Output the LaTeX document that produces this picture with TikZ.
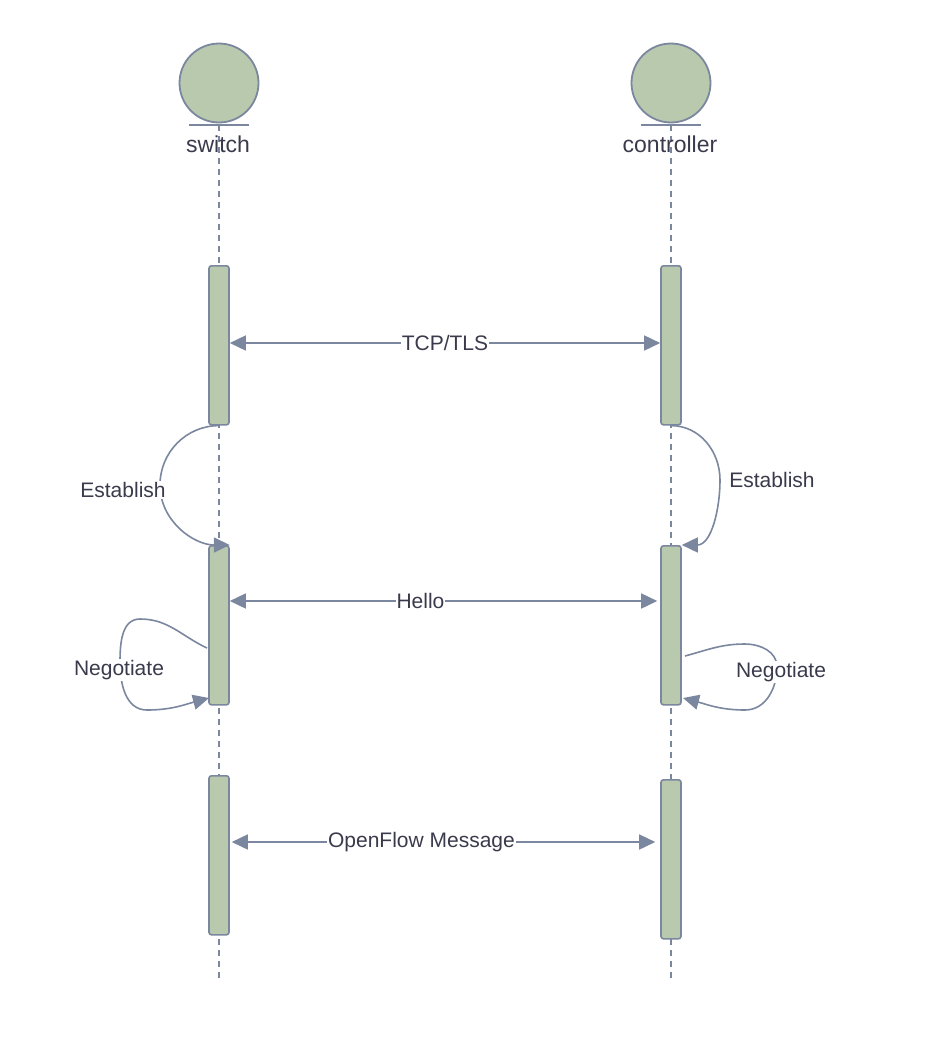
\documentclass[tikz,border=0pt]{standalone}
\usepackage{fontspec}
\setmainfont{Liberation Sans}
\usetikzlibrary{arrows.meta}
\definecolor{actfill}{HTML}{B8C9AE}
\definecolor{edge}{HTML}{7B879E}
\definecolor{txt}{HTML}{3A3A4C}
\begin{document}
\begin{tikzpicture}[x=1pt,y=-1pt,
  actor/.style={circle,draw=edge,fill=actfill,line width=1.8pt,minimum size=79pt,inner sep=0pt},
  aname/.style={text=txt,font=\fontsize{23}{26}\selectfont,inner sep=1pt},
  lifeline/.style={draw=edge,line width=1.5pt,dash pattern=on 6pt off 5pt},
  actbox/.style={draw=edge,fill=actfill,line width=1.6pt,rounded corners=2.5pt,minimum width=20pt,inner sep=0pt,anchor=north},
  msg/.style={draw=edge,line width=1.6pt,{Triangle[length=16pt,width=15pt]}-{Triangle[length=16pt,width=15pt]}},
  selfmsg/.style={draw=edge,line width=1.6pt,-{Triangle[length=16pt,width=15pt]}},
  lbl/.style={text=txt,font=\fontsize{21}{24}\selectfont,fill=white,inner sep=1pt}]
\useasboundingbox (0,0) rectangle (948,1052);
% actors
\node[actor] (sw) at (219,83) {};
\node[actor] (ct) at (671,83) {};
\coordinate (swb) at (219,125);
\coordinate (ctb) at (671,125);
\coordinate (swe) at (219,978);
\coordinate (cte) at (671,978);
\draw[lifeline] (swb) -- (swe);
\draw[lifeline] (ctb) -- (cte);
\draw[draw=edge,line width=1.8pt] ([xshift=-30pt]swb) -- ([xshift=30pt]swb);
\draw[draw=edge,line width=1.8pt] ([xshift=-30pt]ctb) -- ([xshift=30pt]ctb);
\node[aname] (swl) at (218,144) {switch};
\node[aname] (ctl) at (670,144) {controller};
% activation boxes
\node[actbox,minimum height=159pt] (s1) at (219,265) {};
\node[actbox,minimum height=159pt] (s2) at (219,545) {};
\node[actbox,minimum height=159pt] (s3) at (219,775) {};
\node[actbox,minimum height=159pt] (c1) at (671,265) {};
\node[actbox,minimum height=159pt] (c2) at (671,545) {};
\node[actbox,minimum height=159pt] (c3) at (671,779) {};
% messages
\draw[msg] (s1.east |- 0,343) -- node[lbl] (m1) {TCP/TLS} (c1.west |- 0,343);
\draw[msg] (s2.east |- 0,601) -- node[lbl,xshift=-23pt] (m2) {Hello} ([xshift=-3pt]c2.west |- 0,601);
\draw[msg] ([xshift=2pt]s3.east |- 0,842) -- node[lbl,xshift=-22pt] (m3) {OpenFlow Message} ([xshift=-5pt]c3.west |- 0,842);
% establish
\draw[selfmsg] (s1.south) to[out=180,in=90] (160,485) to[out=-90,in=180] (s2.north east);
\node[lbl] (e1) at (123,490) {Establish};
\draw[selfmsg] (c1.south) to[out=0,in=90] (720,480) to[out=-90,in=0] (c2.north east);
\node[lbl] (e2) at (772,480) {Establish};
% negotiate
\coordinate (n1s) at (207,648);
\coordinate (n1e) at (209,698);
\draw[selfmsg] (n1s) to[out=155,in=0] (140,619) to[out=180,in=90] (120,662) to[out=-90,in=180] (147,710) to[out=0,in=195] (n1e);
\node[lbl] (ng1) at (119,670) {Negotiate};
\coordinate (n2s) at (685,656);
\coordinate (n2e) at (683,698);
\draw[selfmsg] (n2s) to[out=15,in=180] (745,644) to[out=0,in=90] (777,667) to[out=-90,in=0] (745,710) to[out=180,in=-15] (n2e);
\node[lbl] (ng2) at (781,672) {Negotiate};
\end{tikzpicture}
\end{document}
